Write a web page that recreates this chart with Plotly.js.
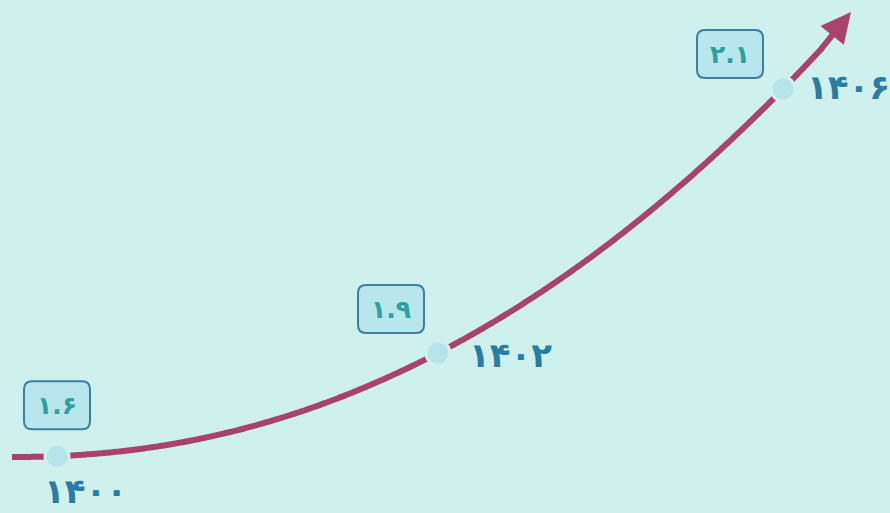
<!DOCTYPE html>
<html>
<head>
<meta charset="utf-8">
<script src="https://cdn.plot.ly/plotly-3.0.1.min.js"></script>
<style>
  html, body { margin: 0; padding: 0; background: #cef1ee; }
  #plot { width: 890px; height: 513px; }
</style>
</head>
<body>
<div id="plot"></div>
<script>
// data
const years = [1400, 1402, 1406];
const values = [1.6, 1.9, 2.1];

// persian digits
function fa(n) {
  return String(n).replace(/\d/g, (d) => "۰۱۲۳۴۵۶۷۸۹"[d]);
}

// illustrative growth curve, in pixel space (y grows downward)
function curveY(x) {
  return 457 - 104 * Math.pow(Math.max(x - 12, 0) / 426, 2.13);
}

// where each year sits along the curve
const slotX = [57, 438, 783];
const pointX = slotX;
const pointY = slotX.map(curveY);

const curveX = [];
for (let x = 12; x <= 822; x += 2) curveX.push(x);
const curveYs = curveX.map(curveY);

const bg = "#cef1ee";
const lineColor = "#a8436c";

const curve = {
  x: curveX,
  y: curveYs,
  mode: "lines",
  line: { color: lineColor, width: 6, simplify: false },
  hoverinfo: "skip",
};

const dots = {
  x: pointX,
  y: pointY,
  mode: "markers",
  marker: { size: 24, color: "#b7e3ea", line: { color: bg, width: 3 } },
  hoverinfo: "skip",
};

// value box offsets and year label offsets, relative to each point
const boxOff = [[0, -51], [-47, -44], [-53, -35]];
const yearOff = [[28, 35], [72, 2], [65, -2]];
const boxW = 66, boxH = 48, r = 8;

function roundRect(cx, cy) {
  const x0 = cx - boxW / 2, x1 = cx + boxW / 2;
  const y0 = cy - boxH / 2, y1 = cy + boxH / 2;
  return `M${x0 + r},${y0} L${x1 - r},${y0} Q${x1},${y0} ${x1},${y0 + r} ` +
    `L${x1},${y1 - r} Q${x1},${y1} ${x1 - r},${y1} L${x0 + r},${y1} ` +
    `Q${x0},${y1} ${x0},${y1 - r} L${x0},${y0 + r} Q${x0},${y0} ${x0 + r},${y0} Z`;
}

const shapes = [];
const annotations = [];

years.forEach((yr, i) => {
  const bx = pointX[i] + boxOff[i][0];
  const by = pointY[i] + boxOff[i][1];
  shapes.push({
    type: "path",
    xref: "x",
    yref: "y",
    path: roundRect(bx, by),
    fillcolor: "#b9e6ec",
    line: { color: "#3f7e9c", width: 2 },
  });
  annotations.push({
    x: bx,
    y: by,
    xref: "x",
    yref: "y",
    text: "<b>" + fa(values[i]) + "</b>",
    showarrow: false,
    font: { family: "DejaVu Sans", size: 25, color: "#2ba29f" },
  });
  annotations.push({
    x: pointX[i] + yearOff[i][0],
    y: pointY[i] + yearOff[i][1],
    xref: "x",
    yref: "y",
    text: "<b>" + fa(yr) + "</b>",
    showarrow: false,
    font: { family: "DejaVu Sans", size: 34, color: "#2c7ba3" },
  });
});

// arrow head at the end of the curve
annotations.push({
  x: 851,
  y: 12,
  ax: 820,
  ay: curveY(820),
  xref: "x",
  yref: "y",
  axref: "x",
  ayref: "y",
  text: "",
  showarrow: true,
  arrowhead: 2,
  arrowsize: 1,
  arrowwidth: 6,
  arrowcolor: lineColor,
});

const layout = {
  width: 890,
  height: 513,
  margin: { l: 0, r: 0, t: 0, b: 0 },
  paper_bgcolor: bg,
  plot_bgcolor: bg,
  showlegend: false,
  xaxis: { range: [0, 890], visible: false, fixedrange: true },
  yaxis: { range: [513, 0], visible: false, fixedrange: true },
  shapes: shapes,
  annotations: annotations,
};

Plotly.newPlot("plot", [curve, dots], layout, { displayModeBar: false, staticPlot: true });
</script>
</body>
</html>
